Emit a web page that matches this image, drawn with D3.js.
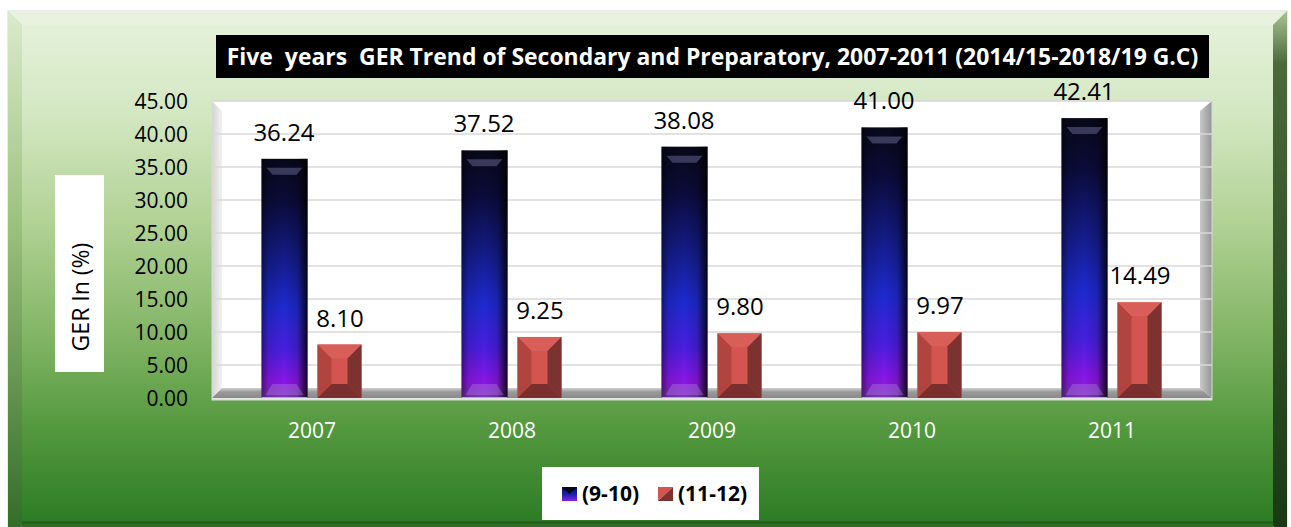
<!DOCTYPE html>
<html>
<head>
<meta charset="utf-8">
<script src="https://cdn.jsdelivr.net/npm/d3@7"></script>
<style>
  html, body { margin: 0; padding: 0; background: #fff; }
  svg { display: block; }
</style>
</head>
<body>
<svg id="chart" width="1291" height="527"></svg>
<script>
const years = ['2007', '2008', '2009', '2010', '2011'];
const seriesNames = ['(9-10)', '(11-12)'];
const gradeNine = [36.24, 37.52, 38.08, 41.00, 42.41];
const gradeEleven = [8.10, 9.25, 9.80, 9.97, 14.49];
const yTicks = [0, 5, 10, 15, 20, 25, 30, 35, 40, 45];
const titleText = 'Five\u00a0 years\u00a0 GER Trend of Secondary and Preparatory, 2007-2011 (2014/15-2018/19 G.C)';
const yTitle = 'GER In (%)';

const svg = d3.select('#chart');
const defs = svg.append('defs');
const font = "'Open Sans', 'DejaVu Sans', sans-serif";

function linGrad(id, x2, y2, stops) {
  const g = defs.append('linearGradient').attr('id', id)
    .attr('x1', 0).attr('y1', 0).attr('x2', x2).attr('y2', y2);
  stops.forEach(s => g.append('stop').attr('offset', s[0]).attr('stop-color', s[1])
    .attr('stop-opacity', s[2] === undefined ? 1 : s[2]));
}

linGrad('bgGrad', 0, 1, [[0, '#e4f1d9'], [0.18, '#d3e7c2'], [0.4, '#b0d193'], [0.62, '#82b565'], [0.8, '#55993f'], [1, '#2b7b24']]);
linGrad('leftBevel', 0, 1, [[0, '#dbeacc'], [0.4, '#9cc27e'], [1, '#2e6a24']]);
linGrad('rightBevel', 0, 1, [[0, '#a8c48f'], [0.1, '#4a6a3a'], [1, '#173812']]);
linGrad('blueGrad', 0, 1, [[0, '#08081a'], [0.18, '#0b0b3a'], [0.42, '#141c8a'], [0.62, '#1e2ad0'], [0.8, '#4a1ee0'], [0.93, '#8a16e6'], [1, '#7a3ab8']]);
linGrad('blueEdge', 1, 0, [[0, '#000', 0.45], [0.15, '#000', 0.12], [0.5, '#000', 0], [0.78, '#000', 0.15], [1, '#000', 0.85]]);
linGrad('leftWall', 1, 0, [[0, '#d4d4d4'], [1, '#f2f2f2']]);
linGrad('rightWall', 1, 0, [[0, '#c8c8c8'], [1, '#959595']]);
linGrad('floorGrad', 0, 1, [[0, '#d0d0d0'], [0.4, '#9a9a9a'], [1, '#8a8a8a']]);
linGrad('legBlue', 0, 1, [[0, '#0b0b40'], [0.55, '#1a22b0'], [1, '#8a20e0']]);

// frame
const fx0 = 8, fx1 = 1287, fy0 = 11, fy1 = 540, bw = 14;
svg.append('rect').attr('x', fx0 - 0.5).attr('y', fy0 - 0.5)
  .attr('width', fx1 - fx0 + 1).attr('height', fy1 - fy0)
  .attr('fill', '#d6d6d6');
svg.append('polygon')
  .attr('points', [[fx0, fy0], [fx1, fy0], [fx1 - bw, fy0 + bw], [fx0 + bw, fy0 + bw]].join(' '))
  .attr('fill', '#e8f2de');
svg.append('polygon')
  .attr('points', [[fx0, fy0], [fx0 + bw, fy0 + bw], [fx0 + bw, fy1 - bw], [fx0, fy1]].join(' '))
  .attr('fill', 'url(#leftBevel)');
svg.append('polygon')
  .attr('points', [[fx1, fy0], [fx1, fy1], [fx1 - bw, fy1 - bw], [fx1 - bw, fy0 + bw]].join(' '))
  .attr('fill', 'url(#rightBevel)');
svg.append('rect').attr('x', fx0 + bw).attr('y', fy0 + bw)
  .attr('width', fx1 - fx0 - 2 * bw).attr('height', fy1 - fy0 - 2 * bw)
  .attr('fill', 'url(#bgGrad)');
svg.append('line').attr('x1', fx0 + bw).attr('x2', fx1 - bw).attr('y1', 522.5).attr('y2', 522.5)
  .attr('stroke', '#24591c').attr('stroke-width', 2);
svg.append('rect').attr('x', fx0 + bw).attr('y', 524)
  .attr('width', fx1 - fx0 - 2 * bw).attr('height', 6).attr('fill', '#2f6d27');

// title
const titleBox = { x: 216, y: 35, w: 993, h: 43 };
svg.append('rect').attr('x', titleBox.x).attr('y', titleBox.y)
  .attr('width', titleBox.w).attr('height', titleBox.h).attr('fill', '#000');
const title = svg.append('text')
  .attr('x', titleBox.x + titleBox.w / 2).attr('y', 65)
  .attr('text-anchor', 'middle')
  .attr('font-family', font).attr('font-weight', 'bold')
  .attr('font-size', 20).attr('fill', '#fff')
  .text(titleText);
const tLen = title.node().getComputedTextLength();
title.attr('font-size', 20 * 972 / tLen);

// scales
const plot = { left: 212, right: 1212, top: 101, bottom: 398 };
const x = d3.scaleBand().domain(years).range([plot.left, plot.right]);
const xs = d3.scaleBand().domain(seriesNames).range([0, x.bandwidth()])
  .paddingInner(0.196).paddingOuter(0.884);
const y = d3.scaleLinear().domain([0, 45]).range([plot.bottom, plot.top]);

// plot walls
const dep = 10;
svg.append('rect').attr('x', plot.left).attr('y', plot.top)
  .attr('width', plot.right - plot.left).attr('height', plot.bottom - plot.top)
  .attr('fill', '#fff');
svg.append('polygon')
  .attr('points', [[plot.left, plot.top], [plot.left + dep, plot.top + dep], [plot.left + dep, plot.bottom - dep], [plot.left, plot.bottom]].join(' '))
  .attr('fill', 'url(#leftWall)');
svg.append('polygon')
  .attr('points', [[plot.right, plot.top], [plot.right, plot.bottom], [plot.right - 12, plot.bottom - dep], [plot.right - 12, plot.top + dep]].join(' '))
  .attr('fill', 'url(#rightWall)');

svg.append('g').selectAll('line').data(yTicks.filter(d => d > 0)).join('line')
  .attr('x1', plot.left).attr('x2', plot.right)
  .attr('y1', d => y(d)).attr('y2', d => y(d))
  .attr('stroke', '#d9d9d9').attr('stroke-width', 1.5);

svg.append('polygon')
  .attr('points', [[plot.left, plot.bottom], [plot.left + dep, plot.bottom - dep], [plot.right - 12, plot.bottom - dep], [plot.right, plot.bottom]].join(' '))
  .attr('fill', 'url(#floorGrad)');
svg.append('line').attr('x1', plot.left).attr('x2', plot.right)
  .attr('y1', plot.bottom + 1).attr('y2', plot.bottom + 1)
  .attr('stroke', '#e6e6e6').attr('stroke-width', 2);
svg.append('rect').attr('x', plot.left).attr('y', plot.top)
  .attr('width', plot.right - plot.left).attr('height', plot.bottom - plot.top + 2)
  .attr('fill', 'none').attr('stroke', '#dadada');

// y axis labels
svg.append('g').selectAll('text').data(yTicks).join('text')
  .attr('x', 188).attr('y', d => y(d))
  .attr('dy', '0.36em')
  .attr('text-anchor', 'end')
  .attr('font-family', font).attr('font-size', 21).attr('fill', '#000')
  .text(d => d3.format('.2f')(d));

// y title
svg.append('rect').attr('x', 55).attr('y', 175).attr('width', 49).attr('height', 197).attr('fill', '#fff');
svg.append('text')
  .attr('transform', 'translate(89,297) rotate(-90)')
  .attr('text-anchor', 'middle')
  .attr('font-family', font).attr('font-size', 23).attr('fill', '#000')
  .text(yTitle);

// x labels
svg.append('g').selectAll('text').data(years).join('text')
  .attr('x', d => x(d) + x.bandwidth() / 2).attr('y', 438)
  .attr('text-anchor', 'middle')
  .attr('font-family', font).attr('font-size', 21).attr('fill', '#fff')
  .text(d => d);

// bars
function blueBar(g, x0, w, y0, y1) {
  const x1 = x0 + w;
  g.append('rect').attr('x', x0).attr('y', y0).attr('width', w).attr('height', y1 - y0)
    .attr('fill', 'url(#blueGrad)');
  g.append('rect').attr('x', x0).attr('y', y0).attr('width', w).attr('height', y1 - y0)
    .attr('fill', 'url(#blueEdge)');
  g.append('polygon')
    .attr('points', [[x0 + 5, y0 + 9], [x1 - 5, y0 + 9], [x1 - 11, y0 + 16], [x0 + 11, y0 + 16]].join(' '))
    .attr('fill', '#5a5a82').attr('opacity', 0.6);
  g.append('polygon')
    .attr('points', [[x0 + 11, y1 - 14], [x1 - 11, y1 - 14], [x1 - 4, y1 - 3], [x0 + 4, y1 - 3]].join(' '))
    .attr('fill', '#c890f0').attr('opacity', 0.3);
  g.append('line').attr('x1', x0).attr('x2', x1).attr('y1', y1 - 0.5).attr('y2', y1 - 0.5)
    .attr('stroke', '#b9a0d0').attr('stroke-width', 1);
}

function redBar(g, x0, w, y0, y1) {
  const x1 = x0 + w;
  const b = Math.min(14, (y1 - y0) / 3);
  g.append('rect').attr('x', x0).attr('y', y0).attr('width', w).attr('height', y1 - y0)
    .attr('fill', '#d4554f');
  g.append('polygon')
    .attr('points', [[x0, y0], [x1, y0], [x1 - b, y0 + b], [x0 + b, y0 + b]].join(' '))
    .attr('fill', '#d85f59');
  g.append('polygon')
    .attr('points', [[x0, y0], [x0 + b, y0 + b], [x0 + b, y1 - b], [x0, y1]].join(' '))
    .attr('fill', '#b2443f');
  g.append('polygon')
    .attr('points', [[x1, y0], [x1, y1], [x1 - b, y1 - b], [x1 - b, y0 + b]].join(' '))
    .attr('fill', '#7c3330');
  g.append('polygon')
    .attr('points', [[x0, y1], [x1, y1], [x1 - b, y1 - b], [x0 + b, y1 - b]].join(' '))
    .attr('fill', '#7a2f2d');
}

const barG = svg.append('g');
years.forEach((yr, i) => {
  const bx = x(yr);
  blueBar(barG, bx + xs(seriesNames[0]), xs.bandwidth() + 1, y(gradeNine[i]), y(0));
  redBar(barG, bx + xs(seriesNames[1]), xs.bandwidth() - 1, y(gradeEleven[i]), y(0));
});

// data labels
const labelData = [];
years.forEach((yr, i) => {
  labelData.push({ cx: x(yr) + xs(seriesNames[0]) + xs.bandwidth() / 2, v: gradeNine[i] });
  labelData.push({ cx: x(yr) + xs(seriesNames[1]) + xs.bandwidth() / 2, v: gradeEleven[i] });
});
svg.append('g').selectAll('text').data(labelData).join('text')
  .attr('x', d => d.cx).attr('y', d => y(d.v) - 18)
  .attr('text-anchor', 'middle')
  .attr('font-family', font).attr('font-size', 24).attr('fill', '#000')
  .text(d => d3.format('.2f')(d.v));

// legend
svg.append('rect').attr('x', 542).attr('y', 467).attr('width', 217).attr('height', 53).attr('fill', '#fff');
const leg = [
  { name: seriesNames[0], sx: 562, tx: 582 },
  { name: seriesNames[1], sx: 658, tx: 678 }
];
svg.append('rect').attr('x', leg[0].sx).attr('y', 487).attr('width', 15).attr('height', 14).attr('fill', 'url(#legBlue)');
svg.append('polygon').attr('points', [[leg[0].sx, 487], [leg[0].sx + 15, 487], [leg[0].sx + 7.5, 494]].join(' '))
  .attr('fill', '#060620');
svg.append('polygon').attr('points', [[leg[1].sx, 487], [leg[1].sx + 15, 487], [leg[1].sx, 501]].join(' '))
  .attr('fill', '#d4554f');
svg.append('polygon').attr('points', [[leg[1].sx + 15, 487], [leg[1].sx + 15, 501], [leg[1].sx, 501]].join(' '))
  .attr('fill', '#7c3330');
svg.append('g').selectAll('text').data(leg).join('text')
  .attr('x', d => d.tx).attr('y', 501)
  .attr('font-family', font).attr('font-weight', 'bold')
  .attr('font-size', 21).attr('fill', '#000')
  .text(d => d.name);
</script>
</body>
</html>
